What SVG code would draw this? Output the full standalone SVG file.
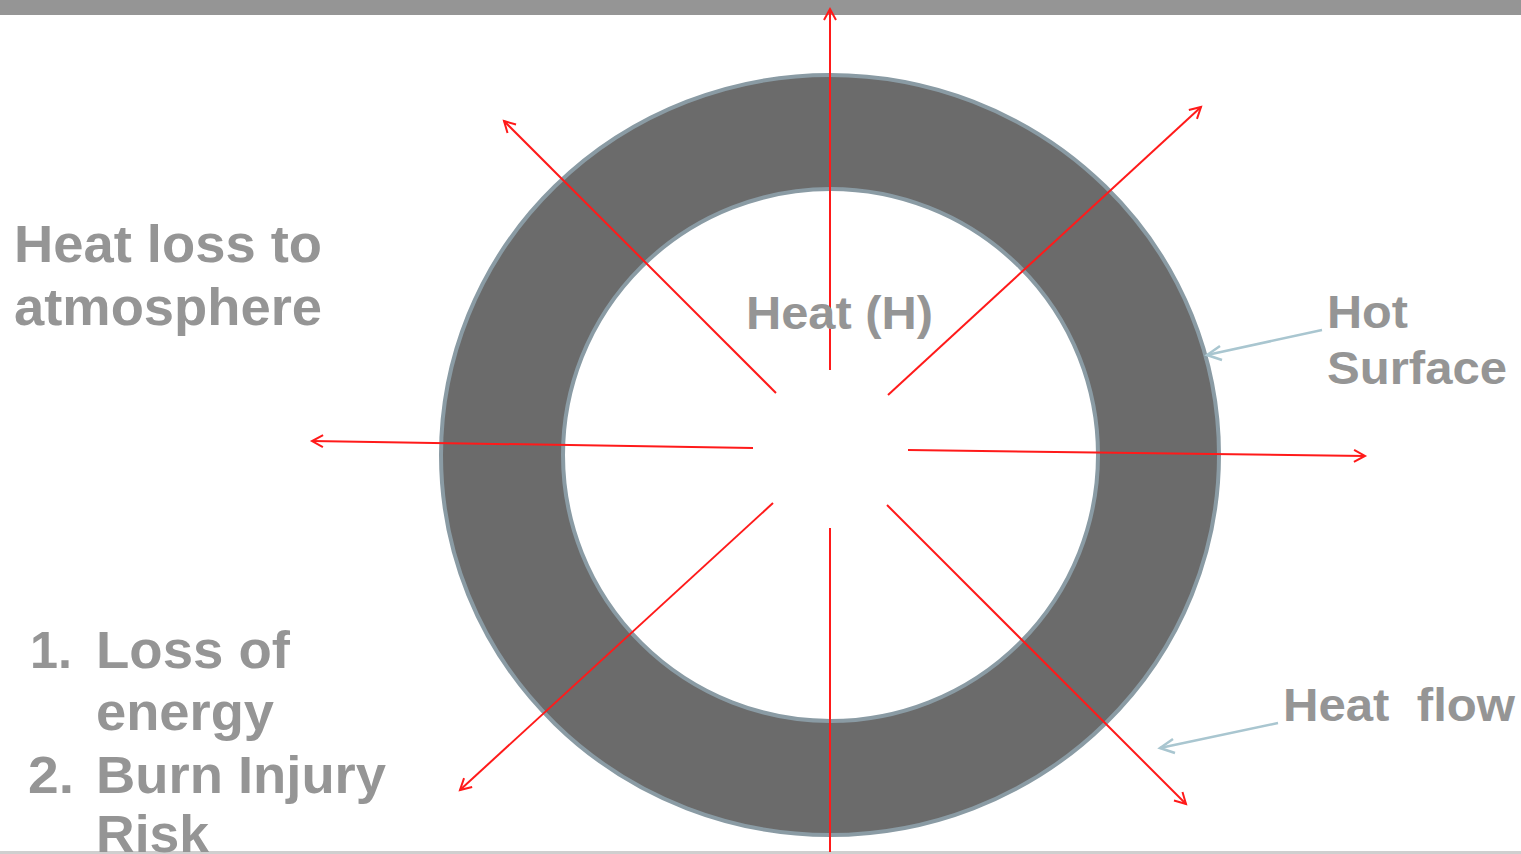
<svg xmlns="http://www.w3.org/2000/svg" width="1521" height="854" viewBox="0 0 1521 854">
<style>
.t{font-family:"Liberation Sans",Arial,sans-serif;font-weight:bold;fill:#959595}
.r{stroke:#ff1a1a;stroke-width:2;fill:none}
.c{stroke:#a9c6d0;stroke-width:2.5;fill:none}
</style>
<defs>
<marker id="ar" markerWidth="16" markerHeight="16" refX="13" refY="8" orient="auto" markerUnits="userSpaceOnUse">
<path d="M2,2 L13,8 L2,14" fill="none" stroke="#ff1a1a" stroke-width="2"/>
</marker>
</defs>
<rect x="0" y="0" width="1521" height="854" fill="#ffffff"/>
<rect x="0" y="0" width="1521" height="15" fill="#959595"/>
<rect x="0" y="851" width="1521" height="3" fill="#cfcfcf"/>
<g id="ring">
<path d="M441,455 a389,380 0 1,0 778,0 a389,380 0 1,0 -778,0 Z M563,455 a267.5,266 0 1,1 535,0 a267.5,266 0 1,1 -535,0 Z" fill="#6b6b6b" fill-rule="evenodd" stroke="#8a9ba4" stroke-width="4"/>
</g>
<g id="connectors">
<line class="r" x1="830" y1="370" x2="830" y2="9" marker-end="url(#ar)"/>
<line class="r" x1="830" y1="528" x2="830" y2="852"/>
<line class="r" x1="776" y1="393" x2="504" y2="121" marker-end="url(#ar)"/>
<line class="r" x1="888" y1="395" x2="1201" y2="107" marker-end="url(#ar)"/>
<line class="r" x1="753" y1="448" x2="312" y2="441" marker-end="url(#ar)"/>
<line class="r" x1="908" y1="450" x2="1365" y2="456" marker-end="url(#ar)"/>
<line class="r" x1="773" y1="503" x2="460" y2="790" marker-end="url(#ar)"/>
<line class="r" x1="887" y1="505" x2="1186" y2="804" marker-end="url(#ar)"/>
<line class="c" x1="1322" y1="330" x2="1207" y2="355"/>
<line class="c" x1="1278" y1="723" x2="1160" y2="748"/>
<path class="c" d="M1220,346 L1207,355 L1222,360"/>
<path class="c" d="M1173,739 L1160,748 L1175,753"/>
</g>
<g id="label-heat-loss">
<text class="t" x="14" y="262" font-size="51" textLength="308" lengthAdjust="spacingAndGlyphs">Heat loss to</text>
<text class="t" x="14" y="325" font-size="51" textLength="308" lengthAdjust="spacingAndGlyphs">atmosphere</text>
</g>
<g id="label-heat-h">
<text class="t" x="746" y="329" font-size="46" textLength="187" lengthAdjust="spacingAndGlyphs">Heat (H)</text>
</g>
<g id="label-hot-surface">
<text class="t" x="1327" y="328" font-size="46" textLength="81" lengthAdjust="spacingAndGlyphs">Hot</text>
<text class="t" x="1327" y="384" font-size="46" textLength="180" lengthAdjust="spacingAndGlyphs">Surface</text>
</g>
<g id="label-heat-flow">
<text class="t" x="1283" y="721" font-size="46" xml:space="preserve" textLength="232" lengthAdjust="spacingAndGlyphs">Heat  flow</text>
</g>
<g id="label-list">
<text class="t" x="30" y="668" font-size="51" textLength="42" lengthAdjust="spacingAndGlyphs">1.</text>
<text class="t" x="96" y="668" font-size="51" textLength="194" lengthAdjust="spacingAndGlyphs">Loss of</text>
<text class="t" x="96" y="730" font-size="51" textLength="178" lengthAdjust="spacingAndGlyphs">energy</text>
<text class="t" x="28" y="793" font-size="51" textLength="46" lengthAdjust="spacingAndGlyphs">2.</text>
<text class="t" x="96" y="793" font-size="51" textLength="290" lengthAdjust="spacingAndGlyphs">Burn Injury</text>
<text class="t" x="96" y="852" font-size="51" textLength="113" lengthAdjust="spacingAndGlyphs">Risk</text>
</g>
</svg>
